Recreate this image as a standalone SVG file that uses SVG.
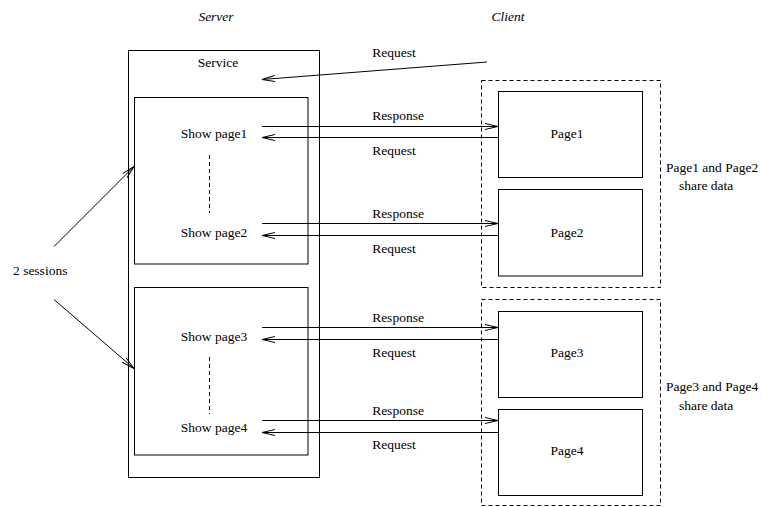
<svg xmlns="http://www.w3.org/2000/svg" width="762" height="507" viewBox="0 0 762 507">
<style>
text{font-family:"Liberation Serif","Times New Roman",serif;font-size:13.5px;fill:#000}
.it{font-style:italic}
.box{fill:none;stroke:#000;stroke-width:1}
.dash{fill:none;stroke:#000;stroke-width:1;stroke-dasharray:4,3}
.c{fill:none;stroke:#000;stroke-width:1;marker-end:url(#ah)}
</style>
<defs>
<marker id="ah" markerWidth="14" markerHeight="8" refX="13" refY="4" orient="auto" markerUnits="userSpaceOnUse">
<path d="M0,1 L13,4 L0,7" fill="none" stroke="#000" stroke-width="1"/>
</marker>
</defs>
<rect width="762" height="507" fill="#fff"/>
<text class="it" x="216" y="21" text-anchor="middle">Server</text>
<text class="it" x="508" y="21" text-anchor="middle">Client</text>
<g id="server">
<rect class="box" x="128.5" y="50.5" width="191" height="427"/>
<text x="218" y="67" text-anchor="middle">Service</text>
</g>
<g id="session1">
<rect class="box" x="134.5" y="97.5" width="173.5" height="166.5"/>
<text x="214" y="137.5" text-anchor="middle">Show page1</text>
<text x="214" y="236.5" text-anchor="middle">Show page2</text>
<line class="dash" x1="209.5" y1="155" x2="209.5" y2="213"/>
</g>
<g id="session2">
<rect class="box" x="134.5" y="287.5" width="173.5" height="167.5"/>
<text x="214" y="340.5" text-anchor="middle">Show page3</text>
<text x="214" y="432" text-anchor="middle">Show page4</text>
<line class="dash" x1="209.5" y1="357" x2="209.5" y2="414"/>
</g>
<g id="group12">
<rect class="dash" x="481.5" y="80.5" width="179" height="207"/>
<text x="666" y="172">Page1 and Page2</text>
<text x="679" y="190">share data</text>
</g>
<g id="page1">
<rect class="box" x="498.5" y="91.5" width="144" height="86"/>
<text x="567" y="138" text-anchor="middle">Page1</text>
</g>
<g id="page2">
<rect class="box" x="498.5" y="189.5" width="144" height="86.5"/>
<text x="567" y="237" text-anchor="middle">Page2</text>
</g>
<g id="group34">
<rect class="dash" x="481.5" y="299.5" width="179" height="206"/>
<text x="666" y="391">Page3 and Page4</text>
<text x="679" y="410">share data</text>
</g>
<g id="page3">
<rect class="box" x="498.5" y="311.5" width="144" height="86"/>
<text x="567" y="356.5" text-anchor="middle">Page3</text>
</g>
<g id="page4">
<rect class="box" x="498.5" y="409.5" width="144" height="86"/>
<text x="567" y="454.5" text-anchor="middle">Page4</text>
</g>
<g id="sessions-label">
<text x="13" y="275">2 sessions</text>
</g>
<g id="connectors">
<line class="c" x1="487" y1="62" x2="262" y2="79.5"/>
<text x="394" y="57" text-anchor="middle">Request</text>
<line class="c" x1="262" y1="126.5" x2="498" y2="126.5"/>
<line class="c" x1="498" y1="137.5" x2="262" y2="137.5"/>
<text x="398" y="120" text-anchor="middle">Response</text>
<text x="394" y="155" text-anchor="middle">Request</text>
<line class="c" x1="262" y1="223.5" x2="498" y2="223.5"/>
<line class="c" x1="498" y1="235.5" x2="262" y2="235.5"/>
<text x="398" y="217.5" text-anchor="middle">Response</text>
<text x="394" y="252.5" text-anchor="middle">Request</text>
<line class="c" x1="262" y1="327.5" x2="498" y2="327.5"/>
<line class="c" x1="498" y1="339.5" x2="262" y2="339.5"/>
<text x="398" y="321.5" text-anchor="middle">Response</text>
<text x="394" y="356.5" text-anchor="middle">Request</text>
<line class="c" x1="262" y1="420.5" x2="498" y2="420.5"/>
<line class="c" x1="498" y1="432.5" x2="262" y2="432.5"/>
<text x="398" y="414.5" text-anchor="middle">Response</text>
<text x="394" y="448.5" text-anchor="middle">Request</text>
<line class="c" x1="54" y1="246.5" x2="134" y2="166.5"/>
<line class="c" x1="54" y1="299.5" x2="134" y2="368.5"/>
</g>
</svg>
